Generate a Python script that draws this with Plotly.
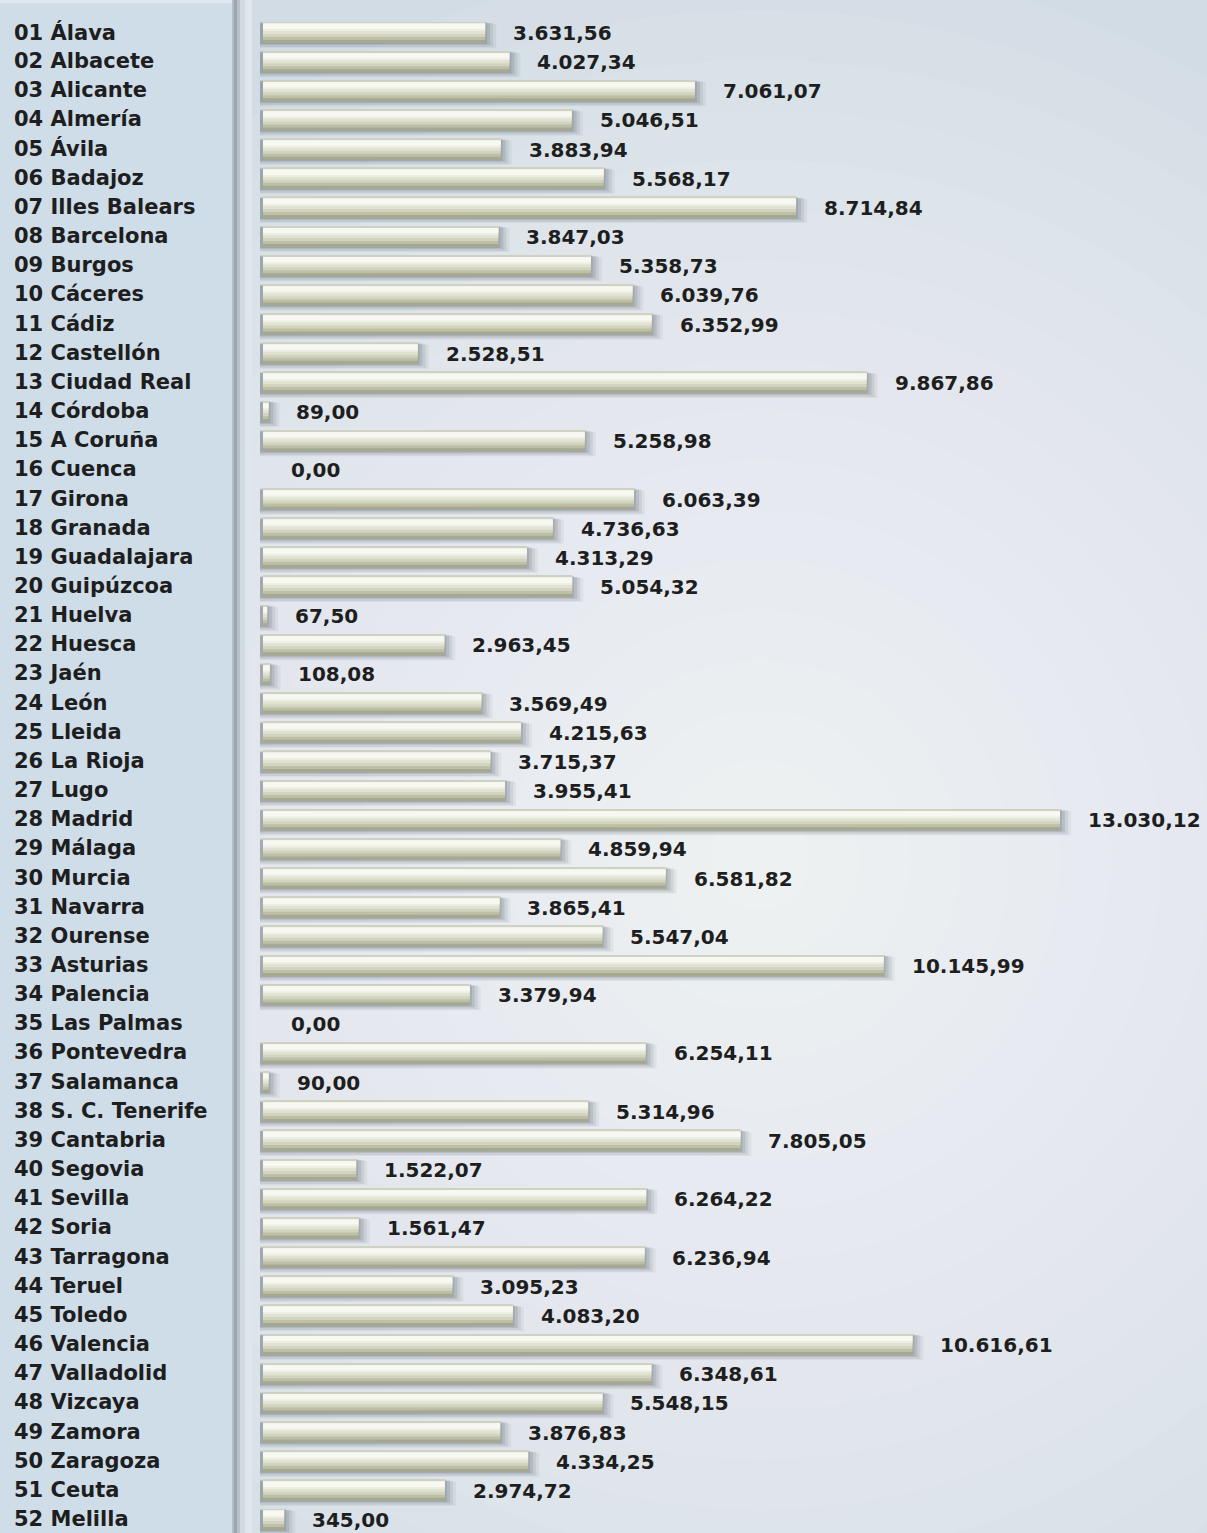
import plotly.graph_objects as go

# Province labels and amounts
provinces = [
    "01 Álava", "02 Albacete", "03 Alicante", "04 Almería", "05 Ávila",
    "06 Badajoz", "07 Illes Balears", "08 Barcelona", "09 Burgos", "10 Cáceres",
    "11 Cádiz", "12 Castellón", "13 Ciudad Real", "14 Córdoba", "15 A Coruña",
    "16 Cuenca", "17 Girona", "18 Granada", "19 Guadalajara", "20 Guipúzcoa",
    "21 Huelva", "22 Huesca", "23 Jaén", "24 León", "25 Lleida",
    "26 La Rioja", "27 Lugo", "28 Madrid", "29 Málaga", "30 Murcia",
    "31 Navarra", "32 Ourense", "33 Asturias", "34 Palencia", "35 Las Palmas",
    "36 Pontevedra", "37 Salamanca", "38 S. C. Tenerife", "39 Cantabria", "40 Segovia",
    "41 Sevilla", "42 Soria", "43 Tarragona", "44 Teruel", "45 Toledo",
    "46 Valencia", "47 Valladolid", "48 Vizcaya", "49 Zamora", "50 Zaragoza",
    "51 Ceuta", "52 Melilla",
]

values = [
    3631.56, 4027.34, 7061.07, 5046.51, 3883.94,
    5568.17, 8714.84, 3847.03, 5358.73, 6039.76,
    6352.99, 2528.51, 9867.86, 89.00, 5258.98,
    0.00, 6063.39, 4736.63, 4313.29, 5054.32,
    67.50, 2963.45, 108.08, 3569.49, 4215.63,
    3715.37, 3955.41, 13030.12, 4859.94, 6581.82,
    3865.41, 5547.04, 10145.99, 3379.94, 0.00,
    6254.11, 90.00, 5314.96, 7805.05, 1522.07,
    6264.22, 1561.47, 6236.94, 3095.23, 4083.20,
    10616.61, 6348.61, 5548.15, 3876.83, 4334.25,
    2974.72, 345.00,
]


def es_format(v):
    s = f"{v:,.2f}"
    return s.replace(",", "#").replace(".", ",").replace("#", ".")


value_labels = [es_format(v) for v in values]

# Page geometry (pixels)
W, H = 1207, 1533
ROW_FIRST_PX, ROW_LAST_PX = 32, 1519
BAR_START_PX, BAR_END_MAX_PX = 263, 1060
PANEL_RIGHT_PX = 232

n = len(values)
rows = list(range(n))
pitch = (ROW_LAST_PX - ROW_FIRST_PX) / (n - 1)
ppu = (BAR_END_MAX_PX - BAR_START_PX) / max(values)

x_range = [-BAR_START_PX / ppu, (W - BAR_START_PX) / ppu]
y_range = [(n - 1) + (H - ROW_LAST_PX) / pitch, -ROW_FIRST_PX / pitch]

fig = go.Figure()


def add_layer(xs, top_px, bot_px, color, base=None):
    fig.add_trace(go.Bar(
        orientation="h",
        x=xs,
        y=rows,
        base=base,
        width=(bot_px - top_px) / pitch,
        offset=top_px / pitch,
        marker=dict(color=color, line=dict(width=0)),
        hoverinfo="skip",
        showlegend=False,
    ))


# Soft drop shadow under each bar
for ext_px, top, bot, col in [
    (11, -8, 16, "rgba(70,78,86,0.07)"),
    (8, -9, 15, "rgba(70,78,86,0.10)"),
    (5, -9, 13, "rgba(70,78,86,0.14)"),
    (2, -10, 12, "rgba(70,78,86,0.16)"),
]:
    shadow_x = [(v + (ext_px + 3) / ppu) if v > 0 else 0 for v in values]
    add_layer(shadow_x, top, bot, col, base=-3 / ppu)

# Cylindrical bar body built from stacked tonal bands
for top, bot, col in [
    (-10, 11, "#a6a890"),
    (-10, 8, "#bdbfa7"),
    (-10, 5, "#d2d4bf"),
    (-10, 2, "#e1e3d2"),
    (-9, -1, "#eeefe4"),
    (-8, -3, "#f8f8f2"),
    (-10, -9, "#cfd1c2"),
]:
    add_layer(values, top, bot, col)

# Value labels
for i, (v, t) in enumerate(zip(values, value_labels)):
    fig.add_annotation(
        x=v, y=i, xref="x", yref="y",
        text=t, showarrow=False,
        xanchor="left", yanchor="middle", xshift=26, yshift=-1,
        font=dict(family="DejaVu Sans", size=20, color="#1e1e1e", weight="bold"),
    )

# Province names in the side panel
for i, name in enumerate(provinces):
    fig.add_annotation(
        x=12 / W, y=i, xref="paper", yref="y",
        text=name, showarrow=False,
        xanchor="left", yanchor="middle",
        font=dict(family="DejaVu Sans", size=21, color="#1e1e1e", weight="bold"),
    )

shapes = []

# Radial light glow over the background
cx, cy, R = 760, 860, 900
steps = 18
for k in range(steps):
    r = R * (1 - k / steps)
    shapes.append(dict(
        type="circle", xref="paper", yref="paper", layer="below",
        x0=(cx - r) / W, x1=(cx + r) / W,
        y0=1 - (cy + r) / H, y1=1 - (cy - r) / H,
        fillcolor="rgba(255,255,255,0.065)", line=dict(width=0),
    ))

# Side panel and its edge shadow
shapes.append(dict(type="rect", xref="paper", yref="paper", layer="below",
                   x0=0, x1=PANEL_RIGHT_PX / W, y0=0, y1=1,
                   fillcolor="#cfdde9", line=dict(width=0)))
shapes.append(dict(type="rect", xref="paper", yref="paper", layer="below",
                   x0=0, x1=PANEL_RIGHT_PX / W, y0=1 - 3 / H, y1=1,
                   fillcolor="#dfe7ef", line=dict(width=0)))
for x0, x1, col in [
    (232, 234, "#b3bcc5"),
    (234, 237, "#9ca5ae"),
    (237, 240, "#b7c0c8"),
    (240, 245, "#d2dae1"),
    (245, 252, "#dfe6ec"),
]:
    shapes.append(dict(type="rect", xref="paper", yref="paper", layer="below",
                       x0=x0 / W, x1=x1 / W, y0=0, y1=1,
                       fillcolor=col, line=dict(width=0)))

fig.update_layout(
    width=W, height=H,
    margin=dict(l=0, r=0, t=0, b=0),
    paper_bgcolor="#d2dce5",
    plot_bgcolor="rgba(0,0,0,0)",
    barmode="overlay",
    shapes=shapes,
    xaxis=dict(range=x_range, visible=False, fixedrange=True),
    yaxis=dict(range=y_range, visible=False, fixedrange=True),
)

fig.write_html("out.html")
